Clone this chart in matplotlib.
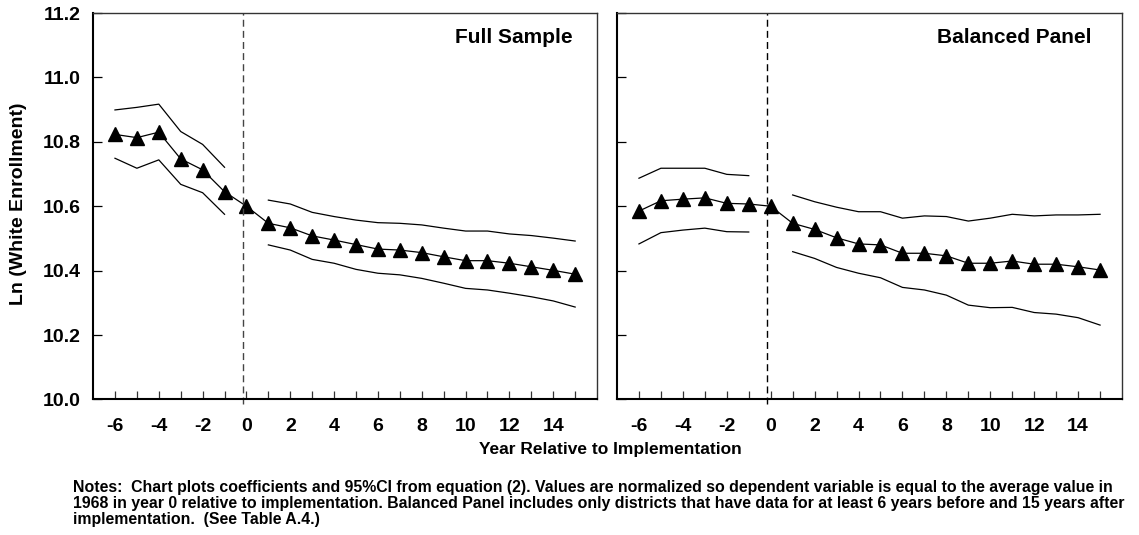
import numpy as np
import matplotlib
matplotlib.use("Agg")
import matplotlib.pyplot as plt

plt.rcParams['font.family'] = ['Liberation Sans', 'DejaVu Sans']
plt.rcParams['font.weight'] = 'bold'

years = list(range(-6, 16))
nan = np.nan

# Full sample: coefficient and 95% CI (no CI drawn at year 0)
full_coef = [10.823, 10.813, 10.830, 10.747, 10.713, 10.645, 10.600,
             10.547, 10.533, 10.508, 10.495, 10.481, 10.467, 10.464,
             10.456, 10.443, 10.431, 10.431, 10.423, 10.412, 10.401, 10.389]
full_hi = [10.899, 10.907, 10.917, 10.832, 10.792, 10.721, nan,
           10.619, 10.607, 10.581, 10.568, 10.557, 10.549, 10.547,
           10.542, 10.532, 10.523, 10.523, 10.514, 10.509, 10.501, 10.492]
full_lo = [10.749, 10.718, 10.744, 10.668, 10.642, 10.575, nan,
           10.480, 10.464, 10.435, 10.423, 10.404, 10.392, 10.387,
           10.376, 10.361, 10.345, 10.340, 10.330, 10.319, 10.306, 10.287]

# Balanced panel
bal_coef = [10.585, 10.617, 10.622, 10.626, 10.609, 10.607, 10.600,
            10.547, 10.528, 10.502, 10.483, 10.480, 10.454, 10.454,
            10.446, 10.423, 10.423, 10.430, 10.420, 10.420, 10.412, 10.402]
bal_hi = [10.687, 10.718, 10.718, 10.718, 10.699, 10.695, nan,
          10.635, 10.614, 10.597, 10.583, 10.583, 10.563, 10.570,
          10.568, 10.554, 10.563, 10.575, 10.570, 10.573, 10.573, 10.575]
bal_lo = [10.483, 10.518, 10.526, 10.532, 10.521, 10.520, nan,
          10.459, 10.438, 10.410, 10.392, 10.378, 10.348, 10.340,
          10.324, 10.293, 10.285, 10.286, 10.270, 10.265, 10.254, 10.231]

panels = [("Full Sample", full_coef, full_hi, full_lo),
          ("Balanced Panel", bal_coef, bal_hi, bal_lo)]
yticks = [10.0, 10.2, 10.4, 10.6, 10.8, 11.0, 11.2]

fig = plt.figure(figsize=(11.39, 5.35), dpi=100)
ax1 = fig.add_axes([0.0817, 0.2533, 0.4425, 0.7224])
ax2 = fig.add_axes([0.5417, 0.2533, 0.4434, 0.7224])

for i, (ax, (title, coef, hi, lo)) in enumerate(zip([ax1, ax2], panels)):
    ax.plot(years, hi, color='black', lw=0.9)
    ax.plot(years, lo, color='black', lw=0.9)
    ax.plot(years, coef, color='black', lw=0.9, marker='^', ms=9.5,
            markeredgecolor='black')
    ax.axvline(-0.15, ymin=-0.012, ymax=1, color='#444444' if i == 0 else 'black',
               lw=1.0, dashes=(5, 3), clip_on=False)
    ax.set_xlim(-7, 16)
    ax.set_ylim(10.0, 11.2)
    ax.set_xticks(years)
    ax.set_xticklabels([str(y) if y % 2 == 0 else '' for y in years])
    ax.set_yticks(yticks)
    if i == 0:
        ax.set_yticklabels([f"{v:.1f}" for v in yticks])
        ax.set_ylabel("Ln (White Enrollment)", fontsize=14, fontweight='bold')
        ax.yaxis.set_label_coords(-0.131, 0.506)
    else:
        ax.set_yticklabels([])
    ax.tick_params(axis='x', direction='in', length=6, width=0.9,
                   labelsize=14, pad=13, colors='#333333', labelcolor='black')
    ax.tick_params(axis='y', direction='in', length=6.5, width=0.9,
                   labelsize=14, pad=9)
    for s in ['left', 'bottom']:
        ax.spines[s].set_linewidth(1.5)
    for s in ['top', 'right']:
        ax.spines[s].set_linewidth(1.0)
        ax.spines[s].set_color('#333333')
    xt = 0.952 if i == 0 else 0.94
    ax.text(xt, 0.9216, title, transform=ax.transAxes, ha='right',
            va='baseline', fontsize=15, fontweight='bold')

fig.text(610 / 1139, 1 - 454 / 535, "Year Relative to Implementation",
         ha='center', va='baseline', fontsize=12.5, fontweight='bold')

notes = ("Notes:  Chart plots coefficients and 95%CI from equation (2). Values are normalized so dependent variable is equal to the average value in\n"
         "1968 in year 0 relative to implementation. Balanced Panel includes only districts that have data for at least 6 years before and 15 years after\n"
         "implementation.  (See Table A.4.)")
fig.text(73 / 1139, 1 - 480 / 535, notes, ha='left', va='top', fontsize=11.4,
         fontweight='bold', linespacing=1.08)

fig.savefig("out.png", dpi=100)
